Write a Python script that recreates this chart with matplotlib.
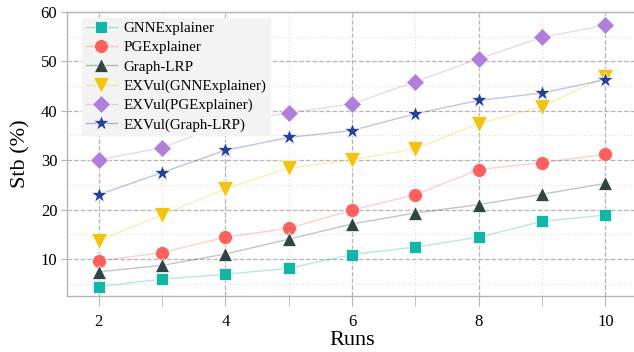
import matplotlib
matplotlib.use("Agg")
import matplotlib.pyplot as plt
from matplotlib.ticker import MultipleLocator
from matplotlib.colors import to_rgba

plt.rcParams['font.family'] = ['Liberation Serif', 'DejaVu Serif']

runs = [2, 3, 4, 5, 6, 7, 8, 9, 10]
gnn = [4.4, 5.9, 6.9, 8.1, 10.9, 12.4, 14.4, 17.6, 18.9]
pge = [9.6, 11.3, 14.4, 16.2, 19.9, 23.0, 28.1, 29.5, 31.2]
lrp = [7.4, 8.7, 11.0, 14.0, 17.1, 19.3, 21.0, 23.1, 25.3]
ex_gnn = [13.7, 18.9, 24.2, 28.4, 30.1, 32.3, 37.4, 40.8, 46.9]
ex_pge = [30.1, 32.5, 37.4, 39.6, 41.4, 45.9, 50.5, 54.9, 57.3]
ex_lrp = [23.0, 27.5, 32.0, 34.6, 36.0, 39.4, 42.1, 43.6, 46.3]
labels = ["GNNExplainer", "PGExplainer", "Graph-LRP", "EXVul(GNNExplainer)",
          "EXVul(PGExplainer)", "EXVul(Graph-LRP)"]

series = [gnn, pge, lrp, ex_gnn, ex_pge, ex_lrp]
colors = ["#13b5a5", "#ff5f5d", "#2f4545", "#f2c40f", "#b07fda", "#25409a"]
markers = ["s", "o", "^", "v", "D", "*"]
msizes = [9, 10, 10, 11, 9, 12]

fig = plt.figure(figsize=(6.34, 3.52), dpi=100)
ax = fig.add_axes([67/634, 56/352, 570/634, 284/352])

handles = []
for ys, c, m, ms, lab in zip(series, colors, markers, msizes, labels):
    ax.plot(runs, ys, color=c, alpha=0.3, lw=1.0, zorder=2)
    ax.plot(runs, ys, linestyle='none', marker=m, markersize=ms, color=c,
            markeredgecolor='white', markeredgewidth=0.5, zorder=3)
    h, = ax.plot([], [], color=to_rgba(c, 0.35), lw=1.0, marker=m, markersize=ms,
                 markerfacecolor=c, markeredgecolor='white', markeredgewidth=0.5,
                 label=lab)
    handles.append(h)

ax.set_xlim(1.5, 10.5)
ax.set_ylim(2.5, 60)
ax.xaxis.set_major_locator(MultipleLocator(2))
ax.xaxis.set_minor_locator(MultipleLocator(1))
ax.yaxis.set_major_locator(MultipleLocator(10))
ax.yaxis.set_minor_locator(MultipleLocator(5))

ax.grid(which='major', color='#b5b5b5', linestyle='--', linewidth=0.9)
ax.grid(which='minor', color='#e2e2e2', linestyle=':', linewidth=0.9)
ax.set_axisbelow(True)

for s in ax.spines.values():
    s.set_color('#b5b5b5')
    s.set_linewidth(1.0)

ax.tick_params(axis='both', which='both', colors='#b5b5b5', labelcolor='black',
               labelsize=12)
ax.tick_params(axis='x', which='major', length=7, pad=6)
ax.tick_params(axis='x', which='minor', length=7)
ax.tick_params(axis='y', which='major', length=4, pad=3)
ax.tick_params(axis='y', which='minor', length=0)

ax.set_xlabel("Runs", fontsize=16, labelpad=1)
ax.set_ylabel("Stb (%)", fontsize=16, labelpad=7)

leg = ax.legend(handles, labels, loc='upper left', bbox_to_anchor=(0.026, 0.979),
                borderaxespad=0, fontsize=10.8, frameon=True, fancybox=False,
                framealpha=1, facecolor='#f3f3f3', edgecolor='#f3f3f3',
                handlelength=2.1, labelspacing=0.38, borderpad=0.25,
                handletextpad=0.4)

fig.savefig("out.png", dpi=100)
